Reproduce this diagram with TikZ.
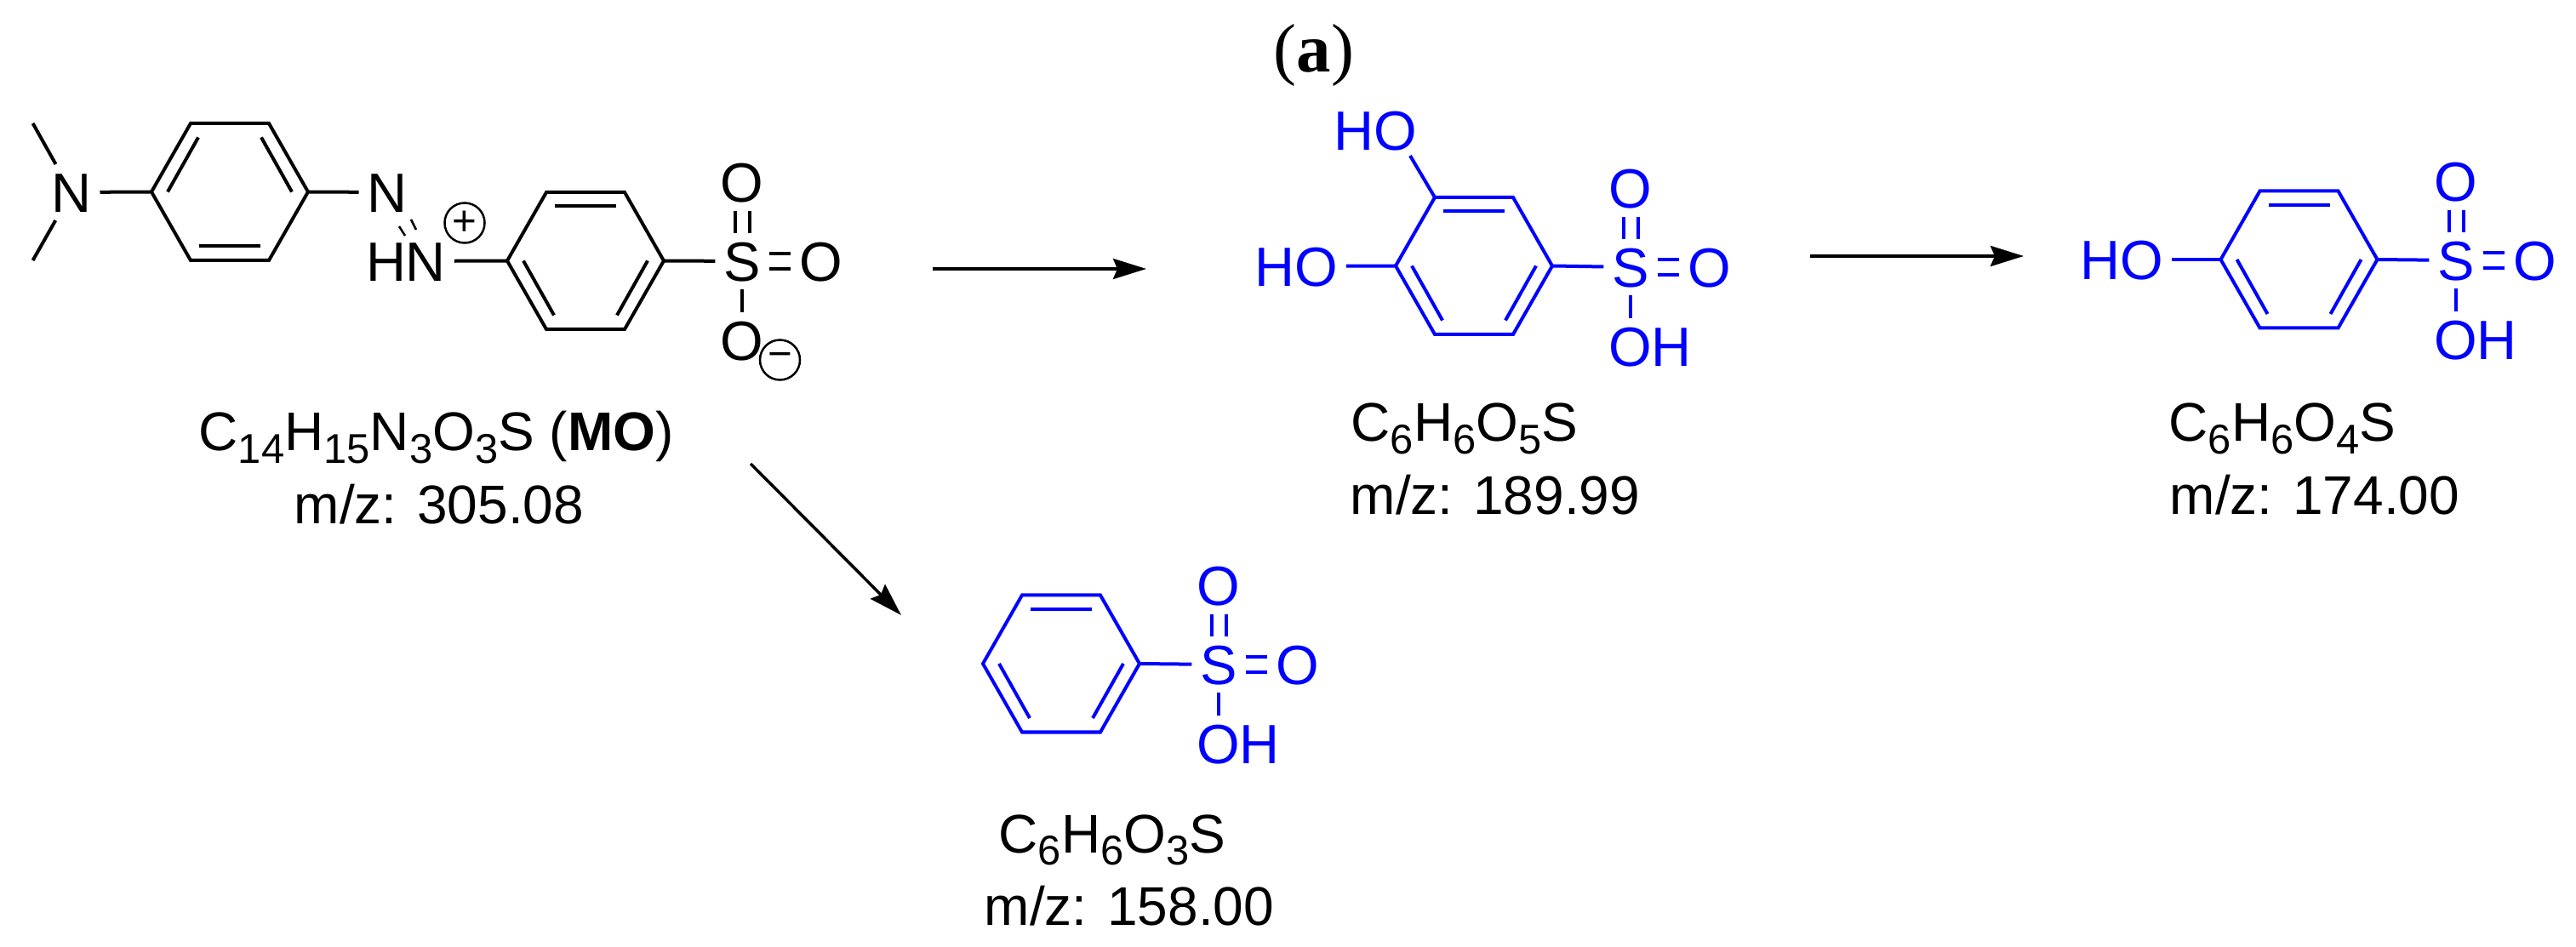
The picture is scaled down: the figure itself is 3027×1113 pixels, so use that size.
\documentclass[tikz,border=0pt]{standalone}
\usepackage{fontspec}
\setmainfont{Liberation Sans}
\newfontfamily\capfont{Liberation Serif}
\usetikzlibrary{arrows.meta}
\newcommand{\chemsub}[1]{\raisebox{-0.23em}{\fontsize{13.9}{16}\selectfont #1}}

\begin{document}
\begin{tikzpicture}[x=0.01cm, y=-0.01cm,
	bond/.style={line width=0.04cm, line join=miter},
	rxn/.style={line width=0.035cm, -{Stealth[length=0.39cm, width=0.24cm, inset=0.05cm]}},
	atom/.style={font=\fontsize{18.5}{22}\selectfont, inner sep=0pt, outer sep=0.1cm, text height=0.46cm, text depth=0pt},
	formula/.style={font=\fontsize{18.2}{22}\selectfont, inner sep=0pt, anchor=base west},
	charge/.style={draw, circle, line width=0.025cm, minimum size=0.47cm, inner sep=0pt, font=\fontsize{14}{16}\selectfont}]
\useasboundingbox (0, 0) rectangle (3027, 1113);
\foreach \r/\cx/\cy/\fl/\col in {
	ra/270/225.5/-1/black,
	rb/688/306.5/1/black,
	rc/1732/312.5/1/blue,
	rd/2701.5/305/1/blue,
	re/1247/780/1/blue} {
	\begin{scope} [shift={(\cx, \cy)}, yscale=\fl]
	\coordinate (\r1) at (-92, 0);
	\coordinate (\r2) at (-46, -80.5);
	\coordinate (\r3) at (46, -80.5);
	\coordinate (\r4) at (92, 0);
	\coordinate (\r5) at (46, 80.5);
	\coordinate (\r6) at (-46, 80.5);
	\draw [bond, \col] (\r1) -- (\r2) -- (\r3) -- (\r4) -- (\r5) -- (\r6) -- cycle;
	\draw [bond, \col] (-36, -64) -- (36, -64);
	\draw [bond, \col] (-73, 0) -- (-37, 64);
	\draw [bond, \col] (73, 0) -- (37, 64);
	\end{scope}
}
\foreach \g/\sx/\sy/\col in {
	b/872/307/black,
	c/1916/314/blue,
	d/2886/306/blue,
	e/1432/781/blue} {
	\node [atom, \col] (s\g) at (\sx, \sy) {S};
	\node [atom, \col] (ot\g) at (\sx, \sy-92.5) {O};
	\node [atom, \col] (or\g) at (\sx+92.5, \sy) {O};
	\draw [bond, \col] ([xshift=-0.085cm]s\g.north) -- ([xshift=-0.085cm]ot\g.south);
	\draw [bond, \col] ([xshift=0.085cm]s\g.north) -- ([xshift=0.085cm]ot\g.south);
	\draw [bond, \col] ([yshift=0.09cm]s\g.east) -- ([yshift=0.09cm]or\g.west);
	\draw [bond, \col] ([yshift=-0.09cm]s\g.east) -- ([yshift=-0.09cm]or\g.west);
	\draw [bond, \col] (r\g4) -- (s\g);
}
\foreach \g in {c, d, e} {
	\node [atom, blue] (oh\g) at ([shift={(23, 93)}]s\g.center) {OH};
	\draw [bond, blue] (s\g.south) -- (s\g.south |- oh\g.north);
}
\node [atom] (na) at (84, 226) {N};
\coordinate (mea) at (38.6, 145);
\coordinate (meb) at (38.6, 306);
\draw [bond] (mea) -- (na);
\draw [bond] (meb) -- (na);
\draw [bond] (na) -- (ra1);
\node [atom] (nb) at (455, 226) {N};
\draw [bond] (ra4) -- (nb);
\node [atom] (hn) at (477, 307) {HN};
\draw [bond] (hn) -- (rb1);
\coordinate (daa) at (469, 266);
\coordinate (dab) at (476, 277);
\coordinate (dba) at (483, 258);
\coordinate (dbb) at (489, 270);
\draw [line width=0.025cm] (daa) -- (dab);
\draw [line width=0.025cm] (dba) -- (dbb);
\node [charge] (plus) at (546, 262) {+};
\node [atom] (ob) at (872, 400) {O};
\draw [bond] (sb) -- (ob);
\node [charge] (minus) at (916.5, 423) {−};
\node [atom, blue] (hoa) at (1616, 153) {HO};
\coordinate (hoae) at (1657, 183);
\draw [bond, blue] (rc2) -- (hoae);
\node [atom, blue] (hob) at (1523, 313) {HO};
\draw [bond, blue] (hob) -- (rc1);
\node [atom, blue] (hoc) at (2493, 305) {HO};
\draw [bond, blue] (hoc) -- (rd1);
\coordinate (arra) at (1096, 316);
\coordinate (arrb) at (1347, 316);
\coordinate (arrc) at (2127, 301);
\coordinate (arrd) at (2378, 301);
\coordinate (arre) at (882, 545);
\coordinate (arrf) at (1059, 723);
\draw [rxn] (arra) -- (arrb);
\draw [rxn] (arrc) -- (arrd);
\draw [rxn] (arre) -- (arrf);
\node [font=\fontsize{23}{26}\capfont\selectfont] (cap) at (1544, 65) {(\textbf{a})};
\node [formula] (fa) at (233, 530) {C\chemsub{14}H\chemsub{15}N\chemsub{3}O\chemsub{3}S (\textbf{MO})};
\node [formula] (za) at (345, 616) {m/z: 305.08};
\node [formula] (fb) at (1587, 519) {C\chemsub{6}H\chemsub{6}O\chemsub{5}S};
\node [formula] (zb) at (1586, 605) {m/z: 189.99};
\node [formula] (fc) at (2548, 519) {C\chemsub{6}H\chemsub{6}O\chemsub{4}S};
\node [formula] (zc) at (2549, 605) {m/z: 174.00};
\node [formula] (fd) at (1173, 1002) {C\chemsub{6}H\chemsub{6}O\chemsub{3}S};
\node [formula] (zd) at (1156, 1087) {m/z: 158.00};
\end{tikzpicture}
\end{document}
